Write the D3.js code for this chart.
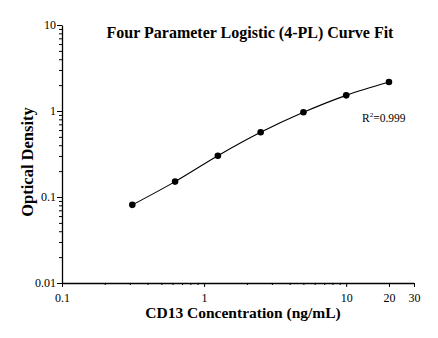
<!DOCTYPE html>
<html><head><meta charset="utf-8">
<script src="https://cdn.jsdelivr.net/npm/d3@7"></script>
<style>body{margin:0;background:#fff}svg{display:block}text{font-family:"Liberation Serif","Times New Roman",serif;fill:#000}</style>
</head><body><svg id="c" width="438" height="338"></svg>
<script>
const concentrations = [0.3125, 0.625, 1.25, 2.5, 5, 10, 20];
const odValues = [0.081, 0.151, 0.302, 0.565, 0.966, 1.52, 2.17];
const xTickValues = [0.1, 1, 10, 20, 30];
const yTickValues = [0.01, 0.1, 1, 10];
const titleText = "Four Parameter Logistic (4-PL) Curve Fit";
const xLabel = "CD13 Concentration (ng/mL)";
const yLabel = "Optical Density";
const r2Text = "0.999";

const svg = d3.select("#c");
const x = d3.scaleLog().domain([0.1, 30]).range([62, 414]);
const y = d3.scaleLog().domain([0.01, 10]).range([283, 25]);

const xMinor = [];
for (let d = 0.1; d < 30; d *= 10) for (let k = 2; k <= 9; k++) { const v = d * k; if (v <= 30 && !xTickValues.includes(+v.toFixed(4))) xMinor.push(v); }
const yMinor = [];
for (let d = 0.01; d < 10; d *= 10) for (let k = 2; k <= 9; k++) yMinor.push(d * k);

const fmt = d => d < 1 ? String(+d.toFixed(3)) : String(d);

const gx = svg.append("g").attr("transform", "translate(0,283)");
gx.call(d3.axisBottom(x).tickValues(xTickValues).tickFormat(fmt).tickSize(4).tickSizeOuter(0));
gx.append("g").call(d3.axisBottom(x).tickValues(xMinor).tickFormat("").tickSize(2).tickSizeOuter(0)).select(".domain").remove();
gx.select(".domain").attr("d", "M62,0.5H414");

const gy = svg.append("g").attr("transform", "translate(62,0)");
gy.call(d3.axisLeft(y).tickValues(yTickValues).tickFormat(fmt).tickSize(5).tickSizeOuter(0));
gy.append("g").call(d3.axisLeft(y).tickValues(yMinor).tickFormat("").tickSize(3).tickSizeOuter(0)).select(".domain").remove();

svg.selectAll(".tick line").attr("stroke", "#000");
svg.selectAll(".domain").attr("stroke", "#000").attr("stroke-width", 1.3);
svg.selectAll(".tick text").style("font-family", '"Liberation Serif", serif').style("font-size", "12px").attr("fill", "#000");
gx.selectAll(".tick text").attr("dy", "1.0em");
gy.selectAll(".tick text").attr("x", -6);

const pts = concentrations.map((c, i) => [x(c), y(odValues[i])]);
svg.append("path").attr("d", d3.line().curve(d3.curveCatmullRom.alpha(0.5))(pts))
  .attr("fill", "none").attr("stroke", "#000").attr("stroke-width", 1.1);
svg.selectAll("circle.pt").data(pts).join("circle").attr("class", "pt")
  .attr("cx", d => d[0]).attr("cy", d => d[1]).attr("r", 3.3).attr("fill", "#000");

svg.append("text").attr("x", 250).attr("y", 38).attr("text-anchor", "middle")
  .style("font-size", "16px").style("font-weight", "bold").text(titleText);
svg.append("text").attr("x", 243).attr("y", 318).attr("text-anchor", "middle")
  .style("font-size", "15.5px").style("font-weight", "bold").text(xLabel);
svg.append("text").attr("transform", "translate(33,162) rotate(-90)").attr("text-anchor", "middle")
  .style("font-size", "16.5px").style("font-weight", "bold").text(yLabel);

const r = svg.append("text").attr("x", 362).attr("y", 122).style("font-size", "11.5px");
r.append("tspan").text("R");
r.append("tspan").attr("dy", -5).style("font-size", "7px").text("2");
r.append("tspan").attr("dy", 5).text("=" + r2Text);
</script></body></html>
